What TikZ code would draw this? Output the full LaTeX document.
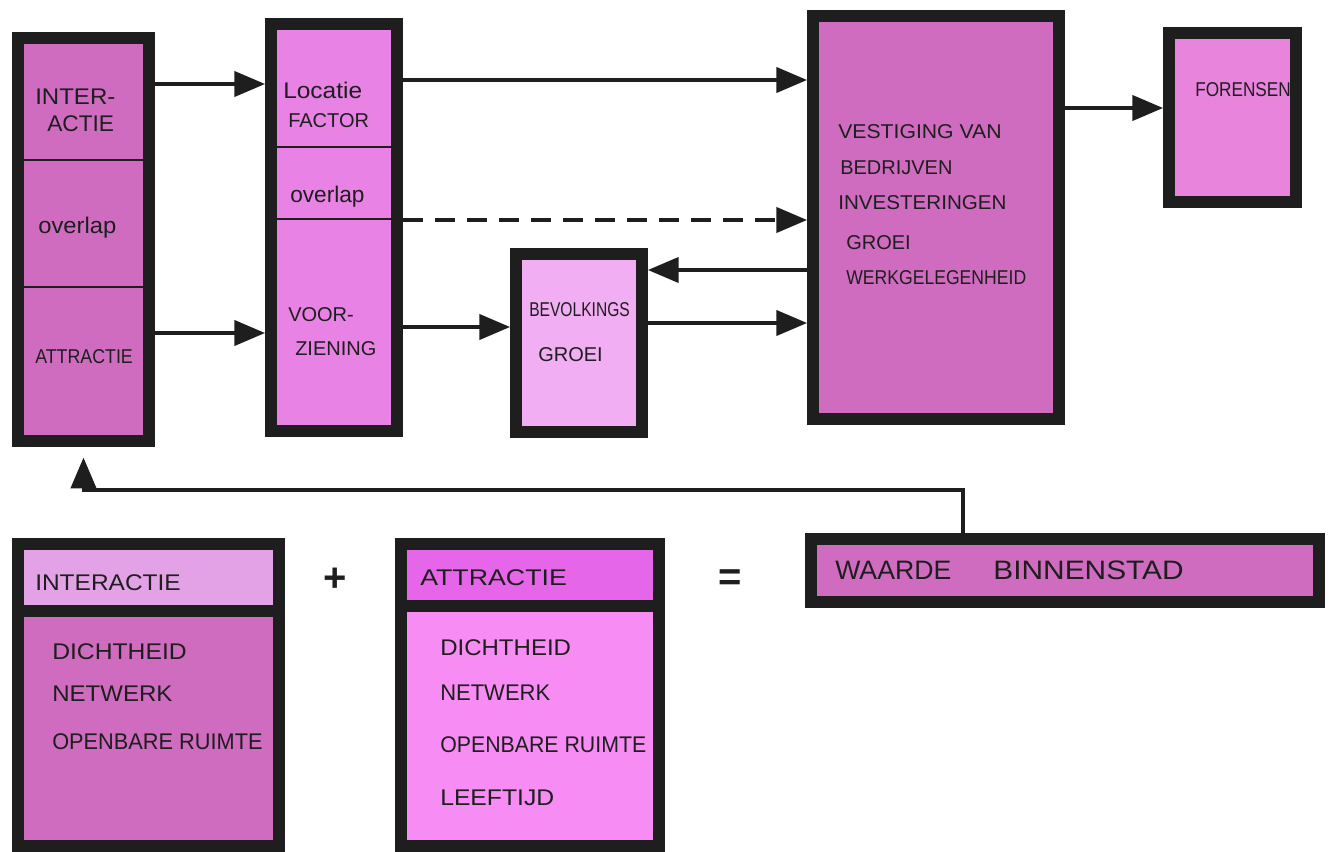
\documentclass[tikz,border=0pt]{standalone}
\usepackage{fontspec}
\usepackage{graphicx}
\setmainfont{Liberation Sans}
\usetikzlibrary{arrows.meta,fit}
\definecolor{ink}{RGB}{30,30,30}
\definecolor{cA}{RGB}{207,108,192}
\definecolor{cB}{RGB}{233,130,229}
\definecolor{cC}{RGB}{242,174,242}
\definecolor{cE}{RGB}{232,132,220}
\definecolor{cIh}{RGB}{228,162,230}
\definecolor{cAh}{RGB}{229,102,232}
\definecolor{cAb}{RGB}{247,140,245}
\begin{document}
\begin{tikzpicture}[x=0.75pt,y=-0.75pt,
  box/.style={draw=ink, line width=9pt, inner sep=0pt},
  lbl/.style={anchor=west, inner sep=0pt, text=ink, font=\fontsize{15}{17}\selectfont},
  fs/.style={font=\fontsize{#1}{#1}\selectfont},
  arr/.style={draw=ink, line width=2.3pt, -{Triangle[length=23pt,width=19pt]}},
  divline/.style={draw=ink, line width=2.2pt},
  thickdiv/.style={draw=ink, line width=9pt},
  sym/.style={inner sep=0pt, text=ink, font=\fontsize{30}{30}\selectfont\bfseries}]
\useasboundingbox (0,0) rectangle (1333,851);
\fill[white] (0,0) rectangle (1333,851);

% ---- boxes ----
\node[box, fill=cA, fit={(18,38) (149,441)}] (A) {};
\node[box, fill=cB, fit={(271,24) (397,431)}] (B) {};
\node[box, fill=cC, fit={(516,254) (642,432)}] (C) {};
\node[box, fill=cA, fit={(813,16) (1059,419)}] (D) {};
\node[box, fill=cE, fit={(1169,33) (1296,202)}] (E) {};
\node[box, fill=cA, fit={(811,539) (1319,602)}] (W) {};
\node[box, fill=cA, fit={(18,544) (279,846)}] (I) {};
\node[box, fill=cAb, fit={(401,544) (659,846)}] (At) {};

% header fills
\fill[cIh] (24,550) rectangle (273,605);
\fill[cAh] (407,550) rectangle (653,600);
\draw[thickdiv] (I.west |- 0,611) -- (I.east |- 0,611);
\draw[thickdiv] (At.west |- 0,606) -- (At.east |- 0,606);

% dividers
\draw[divline] (A.west |- 0,160) -- (A.east |- 0,160);
\draw[divline] (A.west |- 0,287) -- (A.east |- 0,287);
\draw[divline] (B.west |- 0,147) -- (B.east |- 0,147);
\draw[divline] (B.west |- 0,219) -- (B.east |- 0,219);

% ---- labels ----
\node[lbl, fs=17] (tA1) at (35,97) {\scalebox{1.06}[1]{INTER-}};
\node[lbl, fs=17] (tA2) at (47,124) {ACTIE};
\node[lbl, fs=17] (tA3) at (38,228) {\scalebox{1.05}[1]{overlap}};
\node[lbl] (tA4) at (35,357) {\scalebox{0.89}[1]{ATTRACTIE}};

\node[lbl, fs=17] (tB1) at (283,90) {\scalebox{1.08}[1]{Locatie}};
\node[lbl] (tB2) at (288,121) {FACTOR};
\node[lbl, fs=17] (tB3) at (290,197) {overlap};
\node[lbl] (tB4) at (288,315) {VOOR-};
\node[lbl] (tB5) at (295,349) {ZIENING};

\node[lbl] (tC1) at (529,310) {\scalebox{0.78}[1]{BEVOLKINGS}};
\node[lbl] (tC2) at (538,355) {GROEI};

\node[lbl] (tD1) at (838,132) {\scalebox{1.06}[1]{VESTIGING VAN}};
\node[lbl] (tD2) at (840,168) {BEDRIJVEN};
\node[lbl] (tD3) at (838,203) {\scalebox{1.03}[1]{INVESTERINGEN}};
\node[lbl] (tD4) at (846,243) {GROEI};
\node[lbl] (tD5) at (846,278) {\scalebox{0.88}[1]{WERKGELEGENHEID}};

\node[lbl] (tE1) at (1195,90) {\scalebox{0.86}[1]{FORENSEN}};

\node[lbl, fs=17] (tI0) at (35,583) {\scalebox{1.08}[1]{INTERACTIE}};
\node[lbl, fs=17] (tI1) at (52,652) {\scalebox{1.09}[1]{DICHTHEID}};
\node[lbl, fs=17] (tI2) at (52,694) {\scalebox{1.06}[1]{NETWERK}};
\node[lbl, fs=17] (tI3) at (52,742) {\scalebox{0.96}[1]{OPENBARE RUIMTE}};

\node[lbl, fs=17] (tAt0) at (420,578) {\scalebox{1.18}[1]{ATTRACTIE}};
\node[lbl, fs=17] (tAt1) at (440,648) {\scalebox{1.06}[1]{DICHTHEID}};
\node[lbl, fs=17] (tAt2) at (440,693) {\scalebox{0.97}[1]{NETWERK}};
\node[lbl, fs=17] (tAt3) at (440,745) {\scalebox{0.94}[1]{OPENBARE RUIMTE}};
\node[lbl, fs=17] (tAt4) at (440,798) {\scalebox{1.09}[1]{LEEFTIJD}};

\node[lbl, fs=20] (tW) at (835,570) {WAARDE\hspace{26pt} \scalebox{1.12}[1]{BINNENSTAD}};

\node[sym] (plus) at (335,580) {+};
\node[sym] (eq) at (730,580) {=};

% ---- connectors ----
\draw[arr] (A.east |- 0,84) -- (B.west |- 0,84);
\draw[arr] (A.east |- 0,333) -- (B.west |- 0,333);
\draw[arr] (B.east |- 0,80) -- (D.west |- 0,80);
\draw[arr, dash pattern=on 15pt off 9pt] (B.east |- 0,220) -- (D.west |- 0,220);
\draw[arr] (D.west |- 0,270) -- (C.east |- 0,270);
\draw[arr] (C.east |- 0,323) -- (D.west |- 0,323);
\draw[arr] (B.east |- 0,327) -- (C.west |- 0,327);
\draw[arr] (D.east |- 0,108) -- (E.west |- 0,108);

\coordinate (fb) at (963,490);
\draw[arr] (fb |- W.north) -- (fb) -- (fb -| A.south) -- ([yshift=-8pt]A.south);
\end{tikzpicture}
\end{document}
